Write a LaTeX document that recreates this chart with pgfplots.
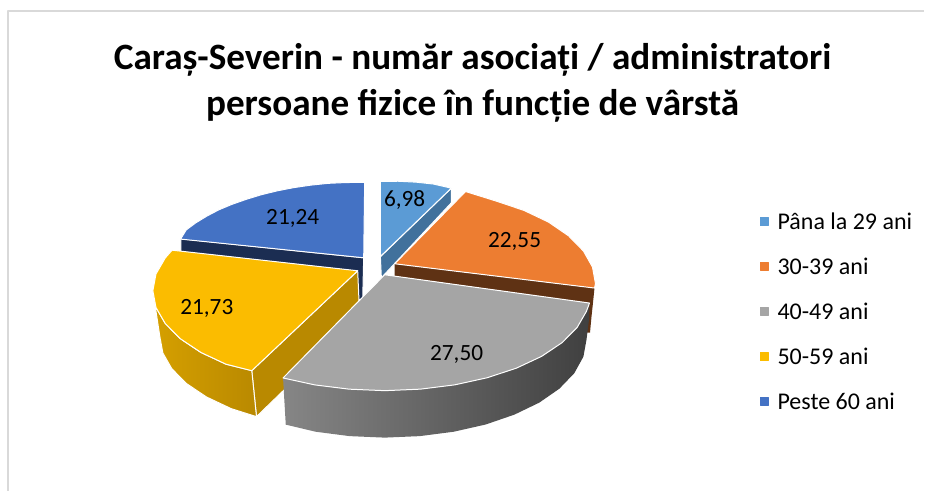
\documentclass[border=0pt]{standalone}
\usepackage{pgfplots}
\pgfplotsset{compat=1.18}
\usepackage{fontspec}
\setmainfont{Carlito}
\definecolor{cLight}{HTML}{5B9BD5}
\definecolor{cLightD}{HTML}{41719C}
\definecolor{cOrange}{HTML}{ED7D31}
\definecolor{cOrangeD}{HTML}{5F3214}
\definecolor{cGray}{HTML}{A5A5A5}
\definecolor{cYellow}{HTML}{FBBC00}
\definecolor{cYellowD}{HTML}{B98900}
\definecolor{cBlue}{HTML}{4472C4}
\definecolor{cNavy}{HTML}{1B2D52}
\definecolor{frameC}{HTML}{D9D9D9}
\begin{document}
\begin{tikzpicture}
\begin{axis}[
  scale only axis, width=925pt, height=491pt,
  xmin=0, xmax=925, ymin=0, ymax=491,
  y dir=reverse, hide axis, clip=false,
  every axis plot/.append style={line join=round},
  face/.style={draw=white, line width=1pt},
]
% keep the whole canvas in the bounding box
\path (axis cs:0,0) rectangle (axis cs:925,491);
% chart frame
\addplot[frameC, line width=1.6pt] coordinates {(8,491) (8,11) (925,11)};

% Peste 60 ani: inner wall, then top
\addplot[face, fill=cNavy] coordinates {(181,239) (364,258) (363,300) (181,280)} -- cycle;
\addplot[face, fill=cBlue] coordinates {(364,258) (365,182.5) (346,182.7) (328.4,183.5) (311,185.3) (293.9,187.8) (277.5,191) (261.5,194.9) (246.5,199.5) (232.2,204.5) (219,210) (207,216.3) (196,223) (186.5,230) (180.7,239.3)} -- cycle;

% Pana la 29 ani
\addplot[face, fill=cLightD] coordinates {(451.7,188.3) (451.7,203) (381.7,278) (380.7,257)} -- cycle;
\addplot[face, fill=cLight] coordinates {(380.7,256.7) (380.7,181.5) (398.6,181.4) (416.3,182.3) (433.8,184.2) (451.7,188.3)} -- cycle;

% 30-39 ani
\addplot[draw=none, fill=cOrangeD] coordinates {(395,264) (595,288.3) (593.5,303) (592,317) (590.5,333) (588,333) (395,290)} -- cycle;
\addplot[face, fill=cOrange] coordinates {(395,264) (466,191.7) (495.5,200.9) (524.2,210.5) (549,222.3) (569,236) (583.9,251.2) (593,267.3) (596,284) (595,288.3)} -- cycle;

% 50-59 ani
\addplot[face, fill=cYellowD] coordinates {(252,371) (358,271) (360,317) (256.7,417)} -- cycle;
\addplot[face, left color=cYellow!85!black, right color=cYellowD] coordinates {(153,291) (156.1,307.7) (165.4,323.8) (180.5,339) (201,352.7) (226.2,364.5) (252,371) (256.7,417) (231.4,409) (206.8,397.4) (186.8,384) (172,369.1) (163,353.3) (160,337)} -- cycle;
\addplot[face, fill=cYellow] coordinates {(358,271) (172.2,250.4) (165.4,258.2) (156.1,274.3) (153,291) (156.1,307.7) (165.4,323.8) (180.5,339) (201,352.7) (226.2,364.5) (252,371)} -- cycle;

% 40-49 ani
\addplot[draw=none, left color=gray!95!white, middle color=black!75, right color=black!75] coordinates {(590,303) (589.2,303.4) (586.9,311.7) (577.6,327.8) (562.5,343) (542,356.7) (516.8,368.5) (487.5,378.1) (455.1,385.2) (420.6,389.5) (385,391) (349.4,389.5) (314.9,385.2) (283.3,378.3) (286,425) (315.9,432.1) (349.9,436.5) (385,438) (420.1,436.5) (454.1,432.1) (486,424.9) (514.8,415) (539.7,403) (559.9,389) (574.8,373.5) (583.9,357) (587,340) (589.5,320)} -- cycle;
\addplot[face, fill=cGray] coordinates {(385,275) (590,303.3) (586.9,311.7) (577.6,327.8) (562.5,343) (542,356.7) (516.8,368.5) (487.5,378.1) (455.1,385.2) (420.6,389.5) (385,391) (349.4,389.5) (314.9,385.2) (283.3,378.3)} -- cycle;

% legend squares
\addplot[only marks, mark=square*, mark size=4pt, cLight, mark options={draw=none}] coordinates {(765,221.7)};
\addplot[only marks, mark=square*, mark size=4pt, cOrange, mark options={draw=none}] coordinates {(765,266.7)};
\addplot[only marks, mark=square*, mark size=4pt, cGray, mark options={draw=none}] coordinates {(765,311.7)};
\addplot[only marks, mark=square*, mark size=4pt, cYellow, mark options={draw=none}] coordinates {(765,357)};
\addplot[only marks, mark=square*, mark size=4pt, cBlue, mark options={draw=none}] coordinates {(765,401.7)};

\begin{scope}[every node/.style={font=\fontsize{24}{28}\selectfont, anchor=west, inner sep=0pt}]
\node at (axis cs:778,221.7) {Pâna la 29 ani};
\node at (axis cs:778,266.7) {30-39 ani};
\node at (axis cs:778,311.7) {40-49 ani};
\node at (axis cs:778,357) {50-59 ani};
\node at (axis cs:778,401.7) {Peste 60 ani};
\end{scope}

\begin{scope}[every node/.style={font=\fontsize{23.3}{28}\selectfont, inner sep=0pt}]
\node at (axis cs:405,200) {6,98};
\node at (axis cs:515,241.5) {22,55};
\node at (axis cs:457,354.5) {27,50};
\node at (axis cs:207,308.5) {21,73};
\node at (axis cs:293,218.5) {21,24};
\end{scope}

\node[font=\fontsize{37.2}{46}\selectfont\bfseries, align=center, inner sep=0pt] at (axis cs:473,83)
  {Caraș-Severin - număr asociați / administratori\\persoane fizice în funcție de vârstă};
\end{axis}
\end{tikzpicture}
\end{document}
